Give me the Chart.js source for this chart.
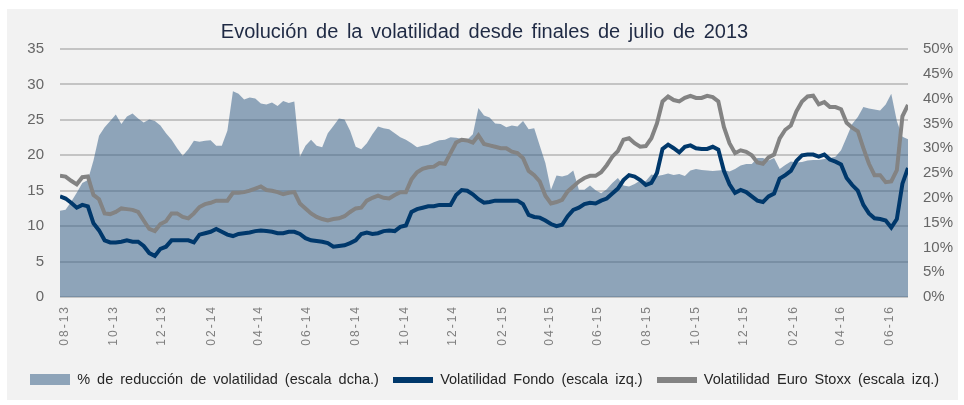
<!DOCTYPE html>
<html><head><meta charset="utf-8">
<script src="https://cdn.jsdelivr.net/npm/chart.js@4/dist/chart.umd.min.js"></script>
<style>
html,body{margin:0;padding:0;background:#fff;}
#wrap{position:absolute;left:7px;top:9px;width:951px;height:391px;background:#f2f2f2;}
canvas{display:block;}
</style></head><body>
<div id="wrap"><canvas id="c" width="951" height="391"></canvas></div>
<script>
// Weekly observations starting on this date
const startDate = [2013, 7, 26];
const tickLabels = ['08-13','10-13','12-13','02-14','04-14','06-14','08-14','10-14','12-14','02-15','04-15','06-15','08-15','10-15','12-15','02-16','04-16','06-16'];

// % de reducción de volatilidad (escala dcha.)
const reduccion = [17.4,17.6,19.2,21.0,23.0,23.6,27.5,32.5,34.2,35.5,
36.8,34.9,36.4,37.0,36.0,35.2,35.8,35.5,34.6,33.0,
31.7,30.0,28.5,29.8,31.5,31.3,31.5,31.6,30.5,30.5,
33.5,41.5,41.0,39.8,40.2,40.0,39.0,38.8,39.2,38.5,
39.5,39.1,39.4,28.3,30.5,31.7,30.5,30.2,33.0,34.5,
36.0,35.8,33.5,30.3,29.8,31.0,32.8,34.4,34.0,33.8,
33.0,32.2,31.7,31.0,30.2,30.5,30.7,31.2,31.6,31.7,
32.2,32.1,31.9,31.7,32.8,38.1,36.6,36.2,35.0,34.9,
34.2,34.6,34.4,35.5,33.8,34.0,30.5,27.0,21.6,24.5,
24.3,24.6,25.5,21.6,21.6,22.5,21.5,20.9,21.7,23.0,
24.0,22.5,22.3,22.8,23.5,23.4,24.7,24.4,24.6,24.9,
24.6,24.8,24.4,25.5,25.8,25.6,25.5,25.4,25.5,25.6,
25.3,25.8,26.5,26.8,26.8,28.0,28.0,27.5,28.0,25.8,
26.6,27.3,27.1,27.2,27.5,27.6,27.6,27.8,28.0,28.3,
29.6,32.2,34.9,36.3,38.3,38.0,37.8,37.6,38.8,41.0,
35.5,32.3,31.8];

// Volatilidad Fondo (escala izq.)
const fondo = [14.2,13.9,13.3,12.6,13.0,12.8,10.4,9.4,8.0,7.7,
7.7,7.8,8.0,7.8,7.8,7.2,6.2,5.8,6.8,7.1,
8.0,8.0,8.0,8.0,7.7,8.8,9.0,9.2,9.6,9.2,
8.8,8.6,8.9,9.0,9.1,9.3,9.4,9.3,9.2,9.0,
9.0,9.2,9.2,8.9,8.3,8.0,7.9,7.8,7.6,7.1,
7.2,7.3,7.6,8.0,8.9,9.1,8.9,9.0,9.3,9.4,
9.3,9.9,10.1,12.0,12.4,12.6,12.8,12.8,13.0,13.0,
13.0,14.4,15.1,15.0,14.5,13.8,13.3,13.4,13.6,13.6,
13.6,13.6,13.6,13.1,11.6,11.3,11.2,10.8,10.3,10.0,
10.2,11.4,12.3,12.6,13.1,13.3,13.2,13.6,13.9,14.6,
15.3,16.5,17.2,17.0,16.5,15.8,16.1,17.5,20.9,21.5,
21.0,20.4,21.2,21.4,21.0,20.9,20.9,21.2,20.8,17.8,
15.9,14.7,15.1,14.8,14.2,13.6,13.4,14.2,14.6,16.7,
17.2,17.8,19.2,20.0,20.1,20.1,19.8,20.1,19.4,19.1,
18.7,16.8,15.8,15.0,13.0,11.8,11.1,11.0,10.8,9.8,
11.0,16.0,18.2];

// Volatilidad Euro Stoxx (escala izq.)
const euroStoxx = [17.1,17.0,16.4,15.9,16.9,17.0,14.4,13.8,11.8,11.7,
12.0,12.5,12.4,12.3,12.0,10.8,9.6,9.3,10.3,10.7,
11.8,11.8,11.3,11.1,11.8,12.7,13.1,13.3,13.6,13.6,
13.6,14.7,14.7,14.8,15.0,15.3,15.6,15.1,15.0,14.8,
14.5,14.7,14.8,13.2,12.5,11.8,11.3,11.0,10.8,11.0,
11.1,11.4,12.0,12.5,12.6,13.6,14.0,14.3,14.0,13.9,
14.4,14.8,14.8,16.6,17.6,18.1,18.3,18.4,18.9,18.8,
20.3,21.8,22.2,22.1,21.8,22.8,21.6,21.4,21.2,21.0,
21.0,20.5,20.3,19.6,17.8,17.2,16.3,14.3,13.2,13.4,
13.7,14.9,15.6,16.3,16.8,17.1,17.1,17.6,18.6,19.8,
20.6,22.2,22.4,21.7,21.2,21.3,22.4,24.5,27.6,28.3,
27.8,27.6,28.1,28.4,28.1,28.1,28.4,28.2,27.6,24.0,
21.7,20.3,20.7,20.5,20.0,19.0,18.8,19.7,20.1,22.4,
23.6,24.2,26.2,27.6,28.3,28.4,27.2,27.5,26.8,26.8,
26.5,24.6,23.9,23.4,21.0,18.8,17.2,17.2,16.2,16.3,
17.9,25.5,27.1];

const leftTicks = {min: 0, max: 35, step: 5};
const rightTicks = {min: 0, max: 50, step: 5};

// tick positions (in weeks from start) for the first day of each labelled month
const t0 = Date.UTC(startDate[0], startDate[1]-1, startDate[2]);
const tickPos = tickLabels.map(l => {
  const m = parseInt(l.slice(0,2),10), y = 2000 + parseInt(l.slice(3),10);
  return (Date.UTC(y, m-1, 1) - t0) / (7*86400000);
});
const toXY = arr => arr.map((v,i) => ({x: i, y: v}));

function swatch(w, h, color){
  const c = document.createElement('canvas'); c.width = w; c.height = h;
  const g = c.getContext('2d'); g.fillStyle = color; g.fillRect(0,0,w,h); return c;
}

const spacing = {
  id: 'spacing',
  beforeLayout(chart){ chart.ctx.wordSpacing = '3px'; },
  beforeDraw(chart){ chart.ctx.wordSpacing = '3px'; },
  afterLayout(chart){
    const s = chart.scales.x;
    if (s && !s.__ls){
      const orig = s.drawLabels;
      s.drawLabels = function(a){ const c = this.ctx; c.save(); c.letterSpacing = '2px'; orig.call(this, a); c.restore(); };
      s.__ls = true;
    }
  }
};

new Chart(document.getElementById('c'), {
  type: 'line',
  data: {
    datasets: [
      {label: '% de reducción de volatilidad (escala dcha.)', data: toXY(reduccion), yAxisID: 'y2',
       fill: 'origin', backgroundColor: 'rgba(60,100,138,0.55)', borderWidth: 0, pointRadius: 0,
       pointStyle: swatch(40, 11, 'rgb(142,164,185)'), order: 3},
      {label: 'Volatilidad Fondo (escala izq.)', data: toXY(fondo), yAxisID: 'y',
       borderColor: '#00386b', borderWidth: 4, pointRadius: 0, fill: false,
       pointStyle: swatch(40, 6, '#00386b'), order: 1},
      {label: 'Volatilidad Euro Stoxx (escala izq.)', data: toXY(euroStoxx), yAxisID: 'y',
       borderColor: '#838383', borderWidth: 4, pointRadius: 0, fill: false,
       pointStyle: swatch(40, 6, '#838383'), order: 2}
    ]
  },
  options: {
    responsive: false, animation: false, devicePixelRatio: 1,
    layout: {padding: {left: 4, right: 0, top: 0, bottom: 3}},
    plugins: {
      title: {display: true, text: 'Evolución de la volatilidad desde finales de julio de 2013',
        color: '#1f2a44', font: {family: 'Liberation Sans', size: 20, weight: 'normal'},
        padding: {top: 11, bottom: 5}},
      legend: {position: 'bottom',
        labels: {usePointStyle: true, pointStyleWidth: 40, padding: 14, color: '#262626',
          font: {family: 'Liberation Sans', size: 14.5},
          sort: (a, b) => a.datasetIndex - b.datasetIndex}},
      tooltip: {enabled: false}
    },
    scales: {
      x: {type: 'linear', min: 0, max: reduccion.length - 1,
        grid: {display: false, drawTicks: false}, border: {display: false},
        afterBuildTicks: s => { s.ticks = tickPos.map(v => ({value: v})); },
        afterFit: s => { s.height = 61.5; },
        ticks: {autoSkip: false, maxRotation: 90, minRotation: 90, padding: 8, color: '#7f7f7f',
          font: {family: 'Liberation Sans', size: 12},
          callback: (v, i) => tickLabels[i]}},
      y: {position: 'left', min: leftTicks.min, max: leftTicks.max,
        afterFit: s => { s.width = 49; },
        grid: {color: '#c4c4c4', lineWidth: 2, drawTicks: false}, border: {display: false},
        ticks: {stepSize: leftTicks.step, padding: 16, color: '#666666', font: {family: 'Liberation Sans', size: 15}}},
      y2: {position: 'right', min: rightTicks.min, max: rightTicks.max,
        afterFit: s => { s.width = 50; },
        grid: {display: false, drawTicks: false}, border: {display: false},
        ticks: {stepSize: rightTicks.step, padding: 15, color: '#666666', font: {family: 'Liberation Sans', size: 15},
          callback: v => v + '%'}}
    }
  },
  plugins: [spacing]
});
</script>
</body></html>
